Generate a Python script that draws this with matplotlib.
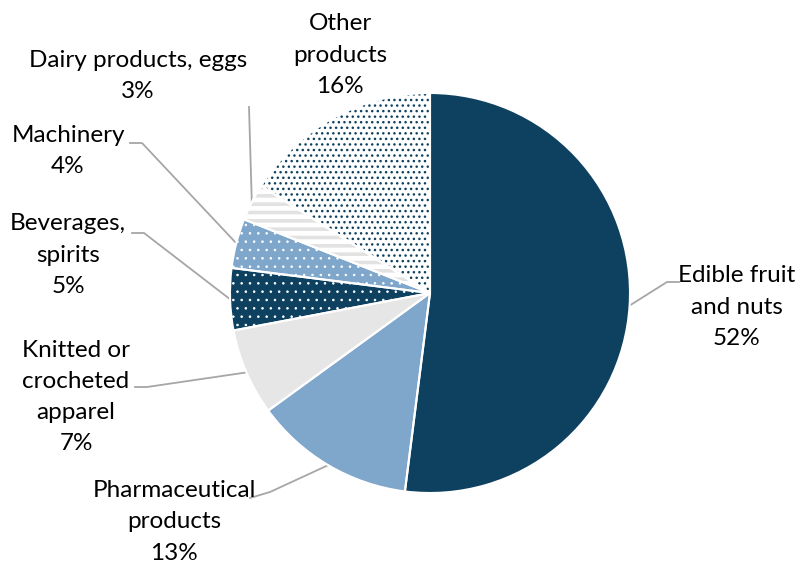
import matplotlib.pyplot as plt
import numpy as np

# data
categories = ["Edible fruit\nand nuts", "Pharmaceutical\nproducts", "Knitted or\ncrocheted\napparel",
              "Beverages,\nspirits", "Machinery", "Dairy products, eggs", "Other\nproducts"]
shares = [52, 13, 7, 5, 4, 3, 16]

navy = "#0e4160"
blue = "#7fa6cb"
grey = "#e6e6e6"
face_colors = [navy, blue, grey, navy, blue, "white", "white"]
hatches = [None, None, None, "..", "..", "--", "..."]
hatch_colors = [None, None, None, "white", "white", "#e2e2e2", navy]
hatch_widths = [0, 0, 0, 0.6, 0.6, 2.6, 1.0]

# label positions (pixel coordinates of the text centre) and leader line knee points
label_px = [(737, 307), (174, 522), (76, 397), (68, 255), (68, 151), (138, 76), (340, 55)]
knee_px = [(667, 282), (270, 492), (147, 387), (144, 233), (142, 143), (249, 107), None]
end_px = [(679, 282), (250, 498), (135, 387), (132, 233), (130, 143), None, None]

W, H = 806, 567
CX, CY, R = 430, 293, 200


def to_data(p):
    return ((p[0] - CX) / R, (CY - p[1]) / R)


plt.rcParams['font.family'] = ['Lato', 'DejaVu Sans']

fig = plt.figure(figsize=(W / 100, H / 100), dpi=100)
ax = fig.add_axes([0, 0, 1, 1])

wedges, _ = ax.pie(shares, startangle=90, counterclock=False, colors=face_colors,
                   wedgeprops=dict(linewidth=0))
for w, h, hc, hw in zip(wedges, hatches, hatch_colors, hatch_widths):
    if h:
        w.set_edgecolor(hc)
        w.set_hatch(h)
        if hasattr(w, "set_hatch_linewidth"):
            w.set_hatch_linewidth(hw)
# white separators on top
ax.pie(shares, startangle=90, counterclock=False,
       wedgeprops=dict(fill=False, edgecolor="white", linewidth=1.5))

line_col = "#a6a6a6"
for w, lab, val, lp, kp, ep in zip(wedges, categories, shares, label_px, knee_px, end_px):
    ang = np.deg2rad((w.theta1 + w.theta2) / 2)
    tx, ty = to_data(lp)
    ax.text(tx, ty, f"{lab}\n{val}%", ha="center", va="center", fontsize=17.5,
            linespacing=1.6, color="black")
    if kp is not None:
        pts = [(np.cos(ang), np.sin(ang)), to_data(kp)]
        if ep is not None:
            pts.append(to_data(ep))
        xs, ys = zip(*pts)
        ax.plot(xs, ys, color=line_col, lw=1.3, zorder=0.5)

ax.set_xlim(-CX / R, (W - CX) / R)
ax.set_ylim((CY - H) / R, CY / R)
ax.set_aspect("equal")
ax.axis("off")

fig.savefig("out.png", dpi=100)
